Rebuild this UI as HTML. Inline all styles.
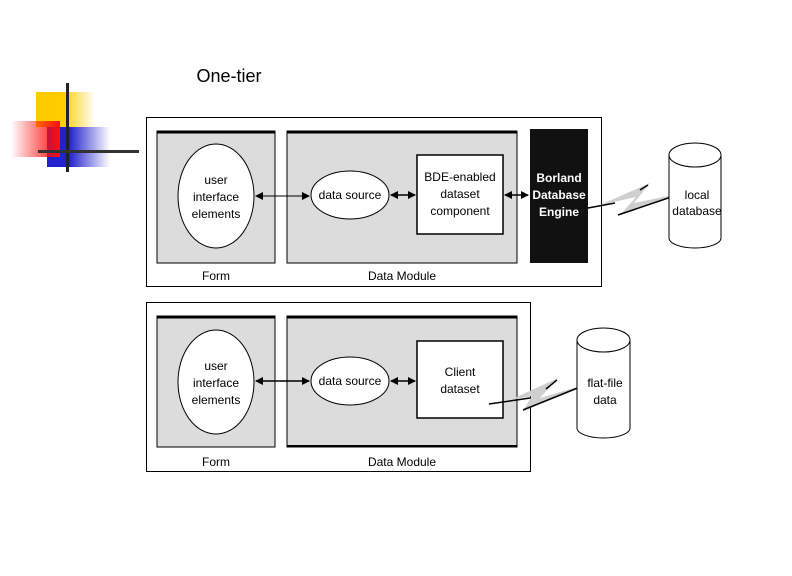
<!DOCTYPE html>
<html><head><meta charset="utf-8"><style>
html,body{margin:0;padding:0;background:#fff;}
svg{display:block;}
text{font-family:"Liberation Sans",Arial,sans-serif;}
</style></head><body>
<svg width="792" height="576" viewBox="0 0 792 576" xmlns="http://www.w3.org/2000/svg">
<defs>
<linearGradient id="gy" x1="0" x2="1"><stop offset="0.45" stop-color="#ffcc00"/><stop offset="1" stop-color="#ffcc00" stop-opacity="0"/></linearGradient>
<linearGradient id="gr" x1="0" x2="1"><stop offset="0" stop-color="#ff0000" stop-opacity="0"/><stop offset="1" stop-color="#ff1010"/></linearGradient>
<linearGradient id="gb" x1="0" x2="1"><stop offset="0.35" stop-color="#2222cc"/><stop offset="1" stop-color="#2222cc" stop-opacity="0"/></linearGradient>
<marker id="ah" markerWidth="8" markerHeight="8" refX="7" refY="4" orient="auto-start-reverse" markerUnits="userSpaceOnUse"><path d="M0,0 L8,4 L0,8 Z" fill="#000"/></marker>
</defs>
<rect x="36" y="92" width="59" height="35" fill="url(#gy)"/>
<rect x="47" y="127" width="63" height="40" fill="url(#gb)"/>
<rect x="11" y="121" width="49" height="36" fill="url(#gr)"/>
<rect x="66" y="83" width="3" height="89" fill="#222"/>
<rect x="38" y="150" width="101" height="3" fill="#333"/>
<text x="229" y="82" font-size="18" text-anchor="middle" fill="#000">One-tier</text>

<g font-size="12" fill="#000" text-anchor="middle">
<!-- top -->
<rect x="146.5" y="117.5" width="455" height="169" fill="#fff" stroke="#000"/>
<rect x="157" y="131" width="118" height="132" fill="#dcdcdc" stroke="#000"/>
<line x1="157" y1="132" x2="275" y2="132" stroke="#000" stroke-width="3"/>
<rect x="287" y="131" width="230" height="132" fill="#dcdcdc" stroke="#000"/>
<line x1="287" y1="132" x2="517" y2="132" stroke="#000" stroke-width="3"/>
<rect x="530" y="129" width="58" height="134" fill="#111"/>
<ellipse cx="216" cy="196" rx="38" ry="52" fill="#fff" stroke="#000"/>
<text x="216" y="184">user</text><text x="216" y="201">interface</text><text x="216" y="218">elements</text>
<ellipse cx="350" cy="195" rx="39" ry="24" fill="#fff" stroke="#000"/>
<text x="350" y="199">data source</text>
<rect x="417" y="155" width="86" height="79" fill="#fff" stroke="#000" stroke-width="1.5"/>
<text x="460" y="181">BDE-enabled</text><text x="460" y="198">dataset</text><text x="460" y="215">component</text>
<text x="559" y="182" fill="#fff" font-weight="bold">Borland</text><text x="559" y="199" fill="#fff" font-weight="bold">Database</text><text x="559" y="216" fill="#fff" font-weight="bold">Engine</text>
<line x1="256" y1="196" x2="309" y2="196" stroke="#000" marker-start="url(#ah)" marker-end="url(#ah)"/>
<line x1="391" y1="195" x2="415" y2="195" stroke="#000" stroke-width="1.5" marker-start="url(#ah)" marker-end="url(#ah)"/>
<line x1="505" y1="195" x2="528" y2="195" stroke="#000" stroke-width="1.5" marker-start="url(#ah)" marker-end="url(#ah)"/>
<text x="216" y="280">Form</text><text x="402" y="280">Data Module</text>
<polygon points="600,205 650,183 634,203 683,193 620,215 636,197" fill="#cfcfcf"/>
<polyline points="588,208 615,203" fill="none" stroke="#000" stroke-width="1.5"/>
<line x1="640" y1="190" x2="648" y2="185" stroke="#000" stroke-width="1.5"/>
<line x1="618" y1="215" x2="683" y2="193" stroke="#000" stroke-width="1.5"/>
<path d="M669,155 L669,238 A26,10 0 0 0 721,238 L721,155" fill="#fff" stroke="#000"/>
<ellipse cx="695" cy="155" rx="26" ry="12" fill="#fff" stroke="#000"/>
<text x="697" y="199">local</text><text x="697" y="215">database</text>

<!-- bottom -->
<rect x="146.5" y="302.5" width="384" height="169" fill="#fff" stroke="#000"/>
<rect x="157" y="316" width="118" height="131" fill="#dcdcdc" stroke="#000"/>
<line x1="157" y1="317" x2="275" y2="317" stroke="#000" stroke-width="3"/>
<rect x="287" y="316" width="230" height="131" fill="#dcdcdc" stroke="#000"/>
<line x1="287" y1="317" x2="517" y2="317" stroke="#000" stroke-width="3"/>
<line x1="287" y1="446" x2="517" y2="446" stroke="#000" stroke-width="2"/>
<ellipse cx="216" cy="382" rx="38" ry="52" fill="#fff" stroke="#000"/>
<text x="216" y="370">user</text><text x="216" y="387">interface</text><text x="216" y="404">elements</text>
<ellipse cx="350" cy="381" rx="39" ry="24" fill="#fff" stroke="#000"/>
<text x="350" y="385">data source</text>
<rect x="417" y="341" width="86" height="77" fill="#fff" stroke="#000" stroke-width="1.5"/>
<text x="460" y="376">Client</text><text x="460" y="393">dataset</text>
<line x1="256" y1="381" x2="309" y2="381" stroke="#000" stroke-width="1.5" marker-start="url(#ah)" marker-end="url(#ah)"/>
<line x1="391" y1="381" x2="415" y2="381" stroke="#000" stroke-width="1.5" marker-start="url(#ah)" marker-end="url(#ah)"/>
<text x="216" y="466">Form</text><text x="402" y="466">Data Module</text>
<polygon points="510,400 558,378 540,398 590,383 523,411 532,396" fill="#cfcfcf"/>
<polyline points="489,404 530,398" fill="none" stroke="#000" stroke-width="1.5"/>
<line x1="546" y1="389" x2="557" y2="380" stroke="#000" stroke-width="1.5"/>
<line x1="523" y1="410" x2="590" y2="383" stroke="#000" stroke-width="1.5"/>
<path d="M577,340 L577,428 A26.5,10 0 0 0 630,428 L630,340" fill="#fff" stroke="#000"/>
<ellipse cx="603.5" cy="340" rx="26.5" ry="12" fill="#fff" stroke="#000"/>
<text x="605" y="387">flat-file</text><text x="605" y="404">data</text>
</g>
</svg>
</body></html>
